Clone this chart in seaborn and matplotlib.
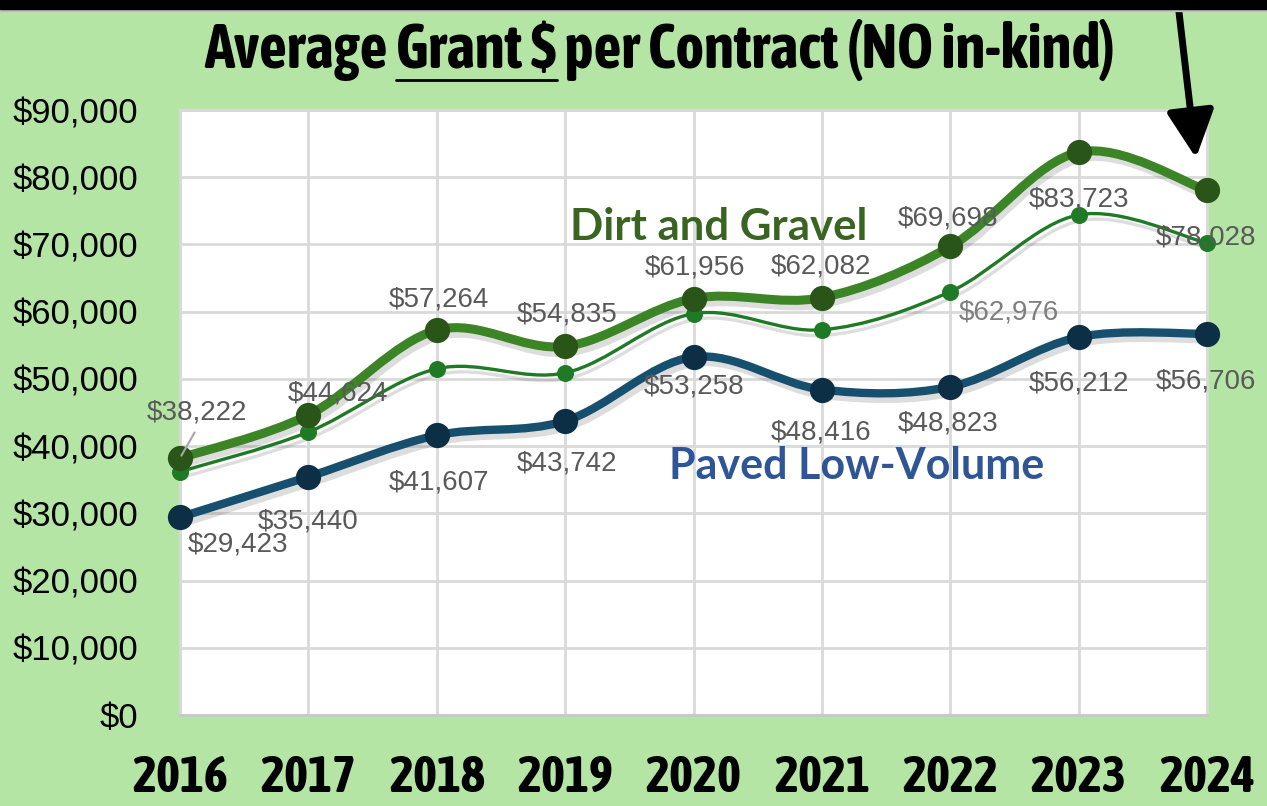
import matplotlib
matplotlib.use('Agg')
import matplotlib.pyplot as plt
from matplotlib.path import Path
from matplotlib.patches import PathPatch, Rectangle
import matplotlib.patheffects as pe
from matplotlib import font_manager
import seaborn as sns
import numpy as np

# data
years = ['2016', '2017', '2018', '2019', '2020', '2021', '2022', '2023', '2024']
dirt_gravel = [38222, 44624, 57264, 54835, 61956, 62082, 69698, 83723, 78028]
paved_low_volume = [29423, 35440, 41607, 43742, 53258, 48416, 48823, 56212, 56706]
combined = [36200, 42100, 51500, 50900, 59700, 57300, 62976, 74400, 70200]

# label offsets in pixels (dx, dy) from each point
dirt_offsets = [(17, 46), (30, 22), (2, 31), (2, 32), (1, 31), (-1, 31), (-2, 28), (0, -47), (-1, -47)]
paved_offsets = [(58, -27), (0, -45), (2, -47), (2, -43), (1, -30), (-1, -43), (-2, -37), (0, -46), (-1, -48)]

BG = '#b5e5a5'
GRID = '#d9d9d9'
LABEL_GRAY = '#595959'

sns.set_style('white')


def is_bold(w):
    if isinstance(w, str):
        return w in ('bold', 'heavy', 'extra bold', 'black', 'demibold', 'semibold')
    return w >= 600


# look for a narrow face that has a bold cut, otherwise Roboto
narrow = 'Roboto'
for f in font_manager.fontManager.ttflist:
    if ('Narrow' in f.name or 'Condensed' in f.name) and is_bold(f.weight):
        narrow = f.name
        break
plt.rcParams['font.family'] = ['Liberation Sans', 'DejaVu Sans']

fig = plt.figure(figsize=(12.67, 8.06), dpi=100, facecolor=BG)
ax = fig.add_axes([180 / 1267, 91 / 806, 1027 / 1267, 605 / 806])
ax.set_facecolor('white')

x = np.arange(len(years))


def smooth_path(xs, ys):
    # excel-style smoothed line through the points (cubic bezier segments)
    pts = np.column_stack([xs, ys]).astype(float)
    n = len(pts)
    verts = [pts[0]]
    codes = [Path.MOVETO]
    for i in range(n - 1):
        p0 = pts[max(i - 1, 0)]
        p1 = pts[i]
        p2 = pts[i + 1]
        p3 = pts[min(i + 2, n - 1)]
        verts += [p1 + (p2 - p0) / 6, p2 - (p3 - p1) / 6, p2]
        codes += [Path.CURVE4] * 3
    return Path(verts, codes)


shadow = [pe.SimpleLineShadow(offset=(2, -4), shadow_color='#666666', alpha=0.22), pe.Normal()]

series = [
    (combined, '#1f7a25', 2.4, 150, '#1f7a25', 3),
    (paved_low_volume, '#17506e', 6.0, 330, '#0d2f45', 4),
    (dirt_gravel, '#3c8526', 6.5, 330, '#2a5518', 5),
]
for vals, lc, lw, ms, mc, z in series:
    patch = PathPatch(smooth_path(x, vals), fill=False, edgecolor=lc, lw=lw,
                      capstyle='round', joinstyle='round', zorder=z, clip_on=False)
    patch.set_path_effects(shadow)
    ax.add_patch(patch)
    sns.scatterplot(x=x, y=vals, s=ms, color=mc, edgecolor=mc, linewidth=0,
                    zorder=z + 0.5, clip_on=False, ax=ax, legend=False)

ax.set_xlim(0, 8)
ax.set_ylim(0, 90000)
ax.set_xticks(x)
ax.set_xticklabels(years)
ax.set_yticks(np.arange(0, 90001, 10000))
ax.set_yticklabels([f'${v:,.0f}' for v in np.arange(0, 90001, 10000)])
ax.grid(True, color=GRID, lw=2)
ax.set_axisbelow(True)
for s in ax.spines.values():
    s.set_color(GRID)
    s.set_linewidth(2)
ax.spines['bottom'].set_color('#c8c8c8')
ax.tick_params(axis='y', length=0, pad=30, labelsize=25, labelcolor='black')
ax.tick_params(axis='x', length=0, pad=28, labelcolor='black')
for t in ax.get_xticklabels():
    t.set_fontfamily([narrow, 'DejaVu Sans'])
    t.set_fontweight('bold')
    t.set_fontsize(37)

# data labels
for i, v in enumerate(dirt_gravel):
    dx, dy = dirt_offsets[i]
    ax.annotate(f'${v:,}', (x[i], v), xytext=(dx, dy), textcoords='offset pixels',
                ha='center', va='center', fontsize=20, color=LABEL_GRAY, zorder=8,
                annotation_clip=False)
for i, v in enumerate(paved_low_volume):
    dx, dy = paved_offsets[i]
    ax.annotate(f'${v:,}', (x[i], v), xytext=(dx, dy), textcoords='offset pixels',
                ha='center', va='center', fontsize=20, color=LABEL_GRAY, zorder=8,
                annotation_clip=False)
ax.annotate(f'${combined[6]:,}', (x[6], combined[6]), xytext=(59, -21), textcoords='offset pixels',
            ha='center', va='center', fontsize=20, color='#7f7f7f', zorder=8)
# leader line for the first dirt & gravel label
ax.annotate('', (x[0], dirt_gravel[0]), xytext=(16, 28), textcoords='offset pixels',
            arrowprops=dict(arrowstyle='-', color='#a6a6a6', lw=1.5), annotation_clip=False, zorder=7)

# series names
fig.text(719 / 1267, 1 - 227 / 806, 'Dirt and Gravel', ha='center', va='center',
         fontsize=31.5, fontweight='bold', color='#3a6422', family=['Lato', 'DejaVu Sans'], zorder=9)
fig.text(857 / 1267, 1 - 466 / 806, 'Paved Low-Volume', ha='center', va='center',
         fontsize=31, fontweight='bold', color='#2f5597', family=['Lato', 'DejaVu Sans'], zorder=9)

# title with "Grant $" underlined
title_kw = dict(fontsize=36, fontweight='bold', family=[narrow, 'DejaVu Sans'], color='black')
title = fig.text(660 / 1267, 1 - 50 / 806, 'Average Grant $ per Contract (NO in-kind)',
                 ha='center', va='center', **title_kw)
fig.canvas.draw()
r = fig.canvas.get_renderer()
# fit title and year labels to the reference widths
title_kw['fontsize'] = min(44, 36 * 925 / title.get_window_extent(r).width)
title.set_fontsize(title_kw['fontsize'])
yr_w = ax.get_xticklabels()[0].get_window_extent(r).width
for t in ax.get_xticklabels():
    t.set_fontsize(min(42, 37 * 96 / yr_w))
fig.canvas.draw()
tb = title.get_window_extent(r)
probe = fig.text(0, 0, 'Average Grant $', **title_kw)
w_prefix = probe.get_window_extent(r).width
probe.set_text('Grant $')
w_word = probe.get_window_extent(r).width
probe.remove()
ux1 = tb.x0 + w_prefix
ux0 = ux1 - w_word
uy = tb.y0 + 1
fig.add_artist(plt.Line2D([ux0, ux1], [uy, uy], transform=None, color='black', lw=2))

# black bar at the top and the arrow
fig.add_artist(Rectangle((0, 1 - 9 / 806), 1, 9 / 806, transform=fig.transFigure,
                         color='black', zorder=10))
fig.add_artist(Rectangle((0, 1 - 11 / 806), 1, 2 / 806, transform=fig.transFigure,
                         color='#bfbfbf', zorder=9))
ax.annotate('', xy=(1196, 806 - 158), xycoords='figure pixels',
            xytext=(1177, 806 + 5), textcoords='figure pixels',
            arrowprops=dict(arrowstyle='-|>,head_length=1.6,head_width=0.8', color='black',
                            lw=5, mutation_scale=18, shrinkA=0, shrinkB=0),
            annotation_clip=False, zorder=11)

fig.savefig('out.png', dpi=100, facecolor=BG)
